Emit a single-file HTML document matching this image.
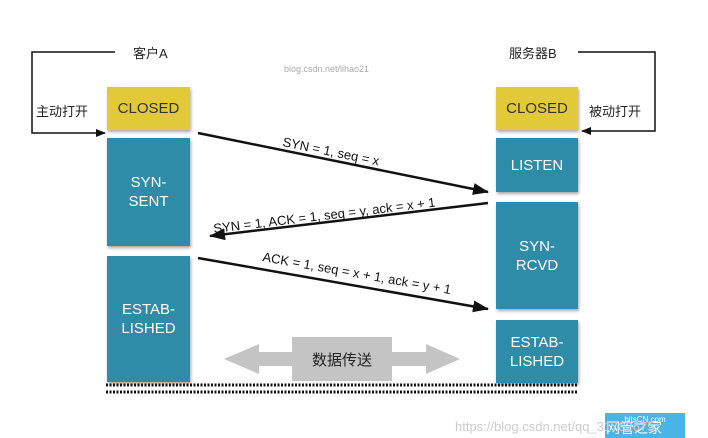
<!DOCTYPE html>
<html><head><meta charset="utf-8"><style>
body{margin:0;width:708px;height:438px;background:#fff;position:relative;overflow:hidden;font-family:"Liberation Sans","Noto Sans CJK SC",sans-serif}
.b{position:absolute;display:flex;align-items:center;justify-content:center;text-align:center;color:#fff;font-size:15px;line-height:19px;box-shadow:1px 2px 3px rgba(0,0,0,.35)}
.bl{background:#2f8ca9}.y{background:#e2c93a;color:#333}
.t{position:absolute;font-size:13px;color:#222;white-space:nowrap}
</style></head><body>
<div class="b y" style="left:107px;top:87px;width:83px;height:43px">CLOSED</div>
<div class="b bl" style="left:107px;top:138px;width:83px;height:108px">SYN-<br>SENT</div>
<div class="b bl" style="left:107px;top:256px;width:83px;height:126px">ESTAB-<br>LISHED</div>
<div class="b y" style="left:496px;top:87px;width:82px;height:43px">CLOSED</div>
<div class="b bl" style="left:496px;top:138px;width:82px;height:54px">LISTEN</div>
<div class="b bl" style="left:496px;top:202px;width:82px;height:107px">SYN-<br>RCVD</div>
<div class="b bl" style="left:496px;top:320px;width:82px;height:63px">ESTAB-<br>LISHED</div>
<div class="t" style="left:133px;top:43px">客户A</div>
<div class="t" style="left:509px;top:43px">服务器B</div>
<div class="t" style="left:36px;top:101px">主动打开</div>
<div class="t" style="left:589px;top:101px">被动打开</div>
<div class="t" style="left:284px;top:64px;font-size:9px;color:#aaa">blog.csdn.net/lihao21</div>
<svg width="708" height="438" style="position:absolute;left:0;top:0">
<defs><marker id="a" markerWidth="10" markerHeight="8" refX="9" refY="4" orient="auto" markerUnits="userSpaceOnUse"><path d="M0,0L10,4L0,8z" fill="#111"/></marker>
<marker id="c" markerWidth="16" markerHeight="12" refX="15" refY="6" orient="auto" markerUnits="userSpaceOnUse"><path d="M0,0L16,6L0,12z" fill="#111"/></marker></defs>
<polyline points="115,52 32,52 32,133 105,133" fill="none" stroke="#111" stroke-width="1.5" marker-end="url(#a)"/>
<polyline points="578,52 655,52 655,131 582,131" fill="none" stroke="#111" stroke-width="1.5" marker-end="url(#a)"/>
<line x1="198" y1="133" x2="488" y2="192" stroke="#111" stroke-width="2.5" marker-end="url(#c)"/>
<line x1="488" y1="203" x2="210" y2="236" stroke="#111" stroke-width="2.5" marker-end="url(#c)"/>
<line x1="198" y1="258" x2="488" y2="309" stroke="#111" stroke-width="2.5" marker-end="url(#c)"/>
<text x="282" y="146" font-size="13" transform="rotate(11.5 282 146)" fill="#111">SYN = 1, seq = x</text>
<text x="214" y="233" font-size="13" transform="rotate(-6.8 214 233)" fill="#111">SYN = 1, ACK = 1, seq = y, ack = x + 1</text>
<text x="262" y="261" font-size="13" transform="rotate(10 262 261)" fill="#111">ACK = 1, seq = x + 1, ack = y + 1</text>
<path d="M224,359L259,344L259,352L292,352L292,337L392,337L392,352L426,352L426,344L460,359L426,374L426,366L392,366L392,381L292,381L292,366L259,366L259,374z" fill="#c4c4c4"/>
<text x="342" y="365" font-size="15" text-anchor="middle" fill="#222">数据传送</text>
<line x1="106" y1="385" x2="578" y2="385" stroke="#111" stroke-width="3" stroke-dasharray="2,1.5"/>
<line x1="106" y1="392" x2="578" y2="392" stroke="#111" stroke-width="3" stroke-dasharray="2,1.5"/>
<rect x="605" y="413" width="80" height="25" fill="#49b4e8"/>
<text x="645" y="422" font-size="8" fill="#fff" text-anchor="middle">bitsCN.com</text>
<text x="606" y="433" font-size="14" fill="#fff">网管之家</text>
<text x="455" y="431" font-size="13" fill="#ccc">https://blog.csdn.net/qq_31782675</text>
</svg>
</body></html>
